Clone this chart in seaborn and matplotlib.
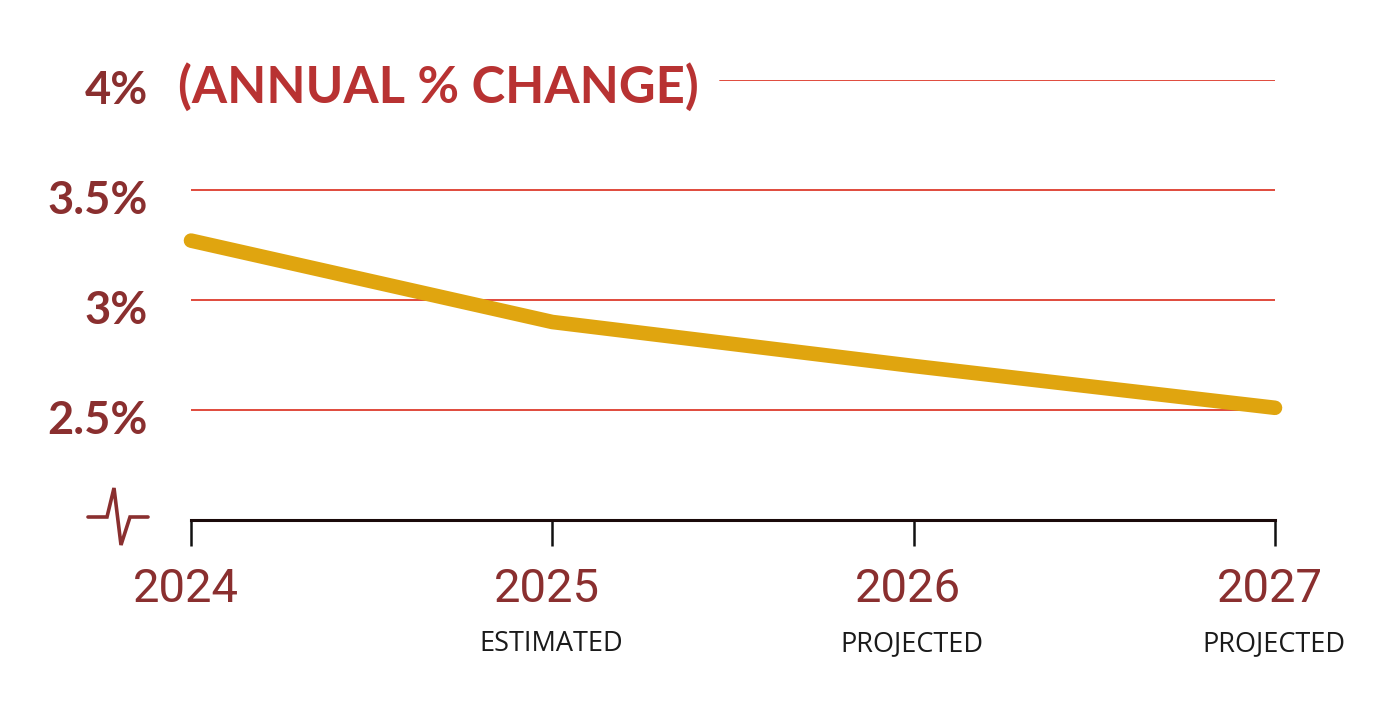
import matplotlib
matplotlib.use("Agg")
import matplotlib.pyplot as plt
import matplotlib.transforms as mtrans
import seaborn as sns
import pandas as pd
from matplotlib.lines import Line2D

years = [2024, 2025, 2026, 2027]
growth = [3.27, 2.90, 2.70, 2.51]
year_labels = ["2024", "2025", "2026", "2027"]
sub_labels = ["", "ESTIMATED", "PROJECTED", "PROJECTED"]
ytick_vals = [2.5, 3.0, 3.5, 4.0]
ytick_labels = ["2.5%", "3%", "3.5%", "4%"]
title_text = "(ANNUAL % CHANGE)"

sns.set_style("white")
plt.rcParams["font.family"] = ["Lato", "DejaVu Sans"]

W, H = 1386, 719
fig = plt.figure(figsize=(W / 100, H / 100), dpi=100)
left, right = 191 / W, 1275 / W
bottom, top = (H - 520) / H, (H - 80) / H
ax = fig.add_axes([left, bottom, right - left, top - bottom])

DARK_RED = "#8a2f2f"
RED = "#b83232"
GRID = "#e04a3c"
GOLD = "#e0a50f"

# gridlines
for v in ytick_vals[:-1]:
    ax.axhline(v, color=GRID, lw=1.4, zorder=1)
ax.axhline(4.0, xmin=(720 - 191) / (1275 - 191), xmax=1.0, color=GRID, lw=1.4, zorder=1)

df = pd.DataFrame({"year": years, "growth": growth})
sns.lineplot(data=df, x="year", y="growth", ax=ax, color=GOLD, lw=10.5,
             solid_capstyle="round", solid_joinstyle="round", zorder=3, clip_on=False)

ax.set_xlim(2024, 2027)
ax.set_ylim(2.0, 4.0)
for s in ["top", "right", "left"]:
    ax.spines[s].set_visible(False)
ax.spines["bottom"].set_color("#1a0a0a")
ax.spines["bottom"].set_linewidth(2.2)
ax.set_xlabel("")
ax.set_ylabel("")

ax.set_yticks(ytick_vals)
ax.set_yticklabels(ytick_labels, fontsize=32.5, fontweight="bold", color=DARK_RED)
ax.tick_params(axis="y", length=0, pad=31)
shift = mtrans.ScaledTranslation(0, -7 / 100, fig.dpi_scale_trans)
for lab in ax.get_yticklabels():
    lab.set_transform(lab.get_transform() + shift)

ax.set_xticks(years)
ax.set_xticklabels([])
ax.tick_params(axis="x", bottom=True, direction="out", length=19, width=1.8, color="#111111")

# year labels and sub labels
for yr, lab, sub in zip(years, year_labels, sub_labels):
    ax.annotate(lab, xy=(yr, 2.0), xytext=(-4, -69 * 0.72), textcoords="offset points",
                ha="center", va="center", fontsize=34, color=DARK_RED,
                family=["Roboto", "DejaVu Sans"], annotation_clip=False)
    if sub:
        ax.annotate(sub, xy=(yr, 2.0), xytext=(-1, -124 * 0.72), textcoords="offset points",
                    ha="center", va="center", fontsize=19.5, color="#1a1a1a",
                    family=["Open Sans", "DejaVu Sans"], annotation_clip=False)

# title next to 4%
fig.text(178 / W, 1 - 87 / H, title_text, ha="left", va="center", fontsize=36.5,
         fontweight="bold", color=RED)

# axis break symbol
xs = [88, 107, 114, 121, 130, 148]
ys = [517, 517, 488, 545, 517, 517]
fig.add_artist(Line2D([x / W for x in xs], [1 - y / H for y in ys],
                      transform=fig.transFigure, color=DARK_RED, lw=2.6,
                      solid_joinstyle="miter"))

fig.savefig("out.png", dpi=100, facecolor="white")
